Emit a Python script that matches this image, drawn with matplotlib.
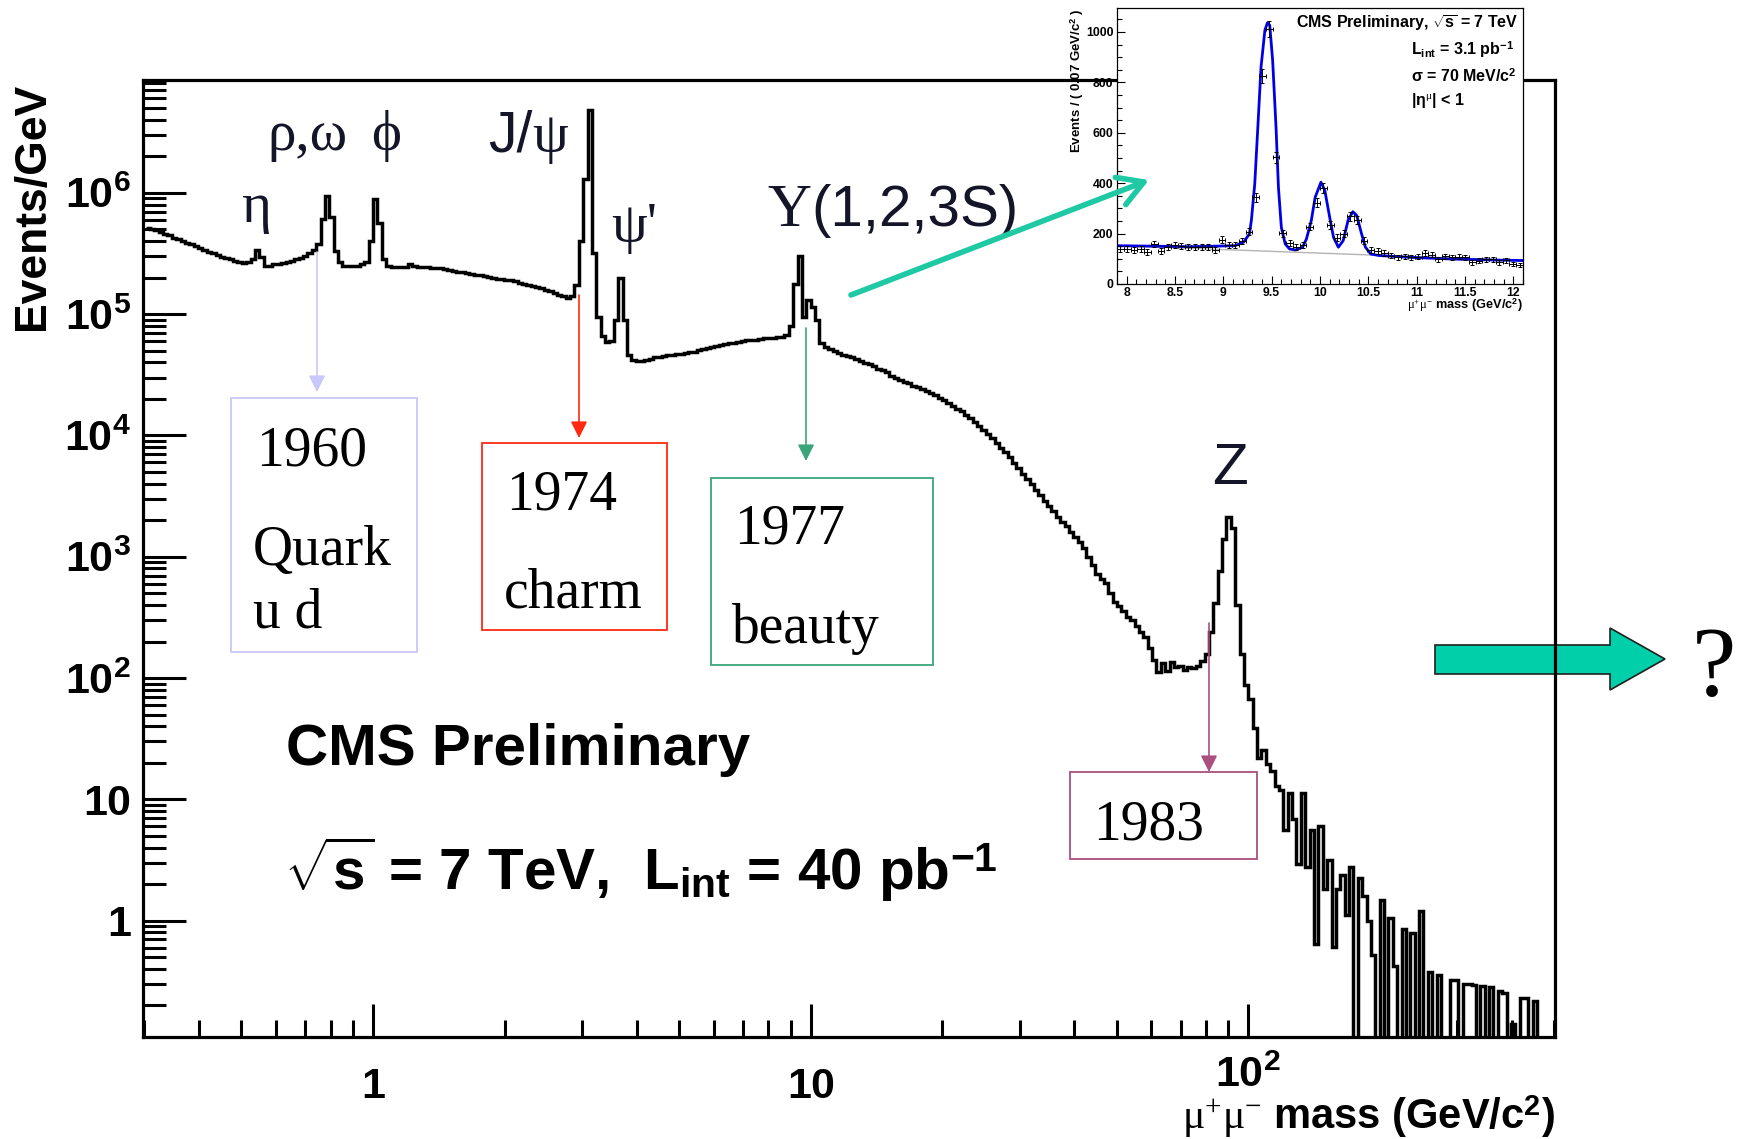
"""CMS dimuon mass spectrum (7 TeV, 40 pb-1) with discovery years and the Upsilon inset."""
import numpy as np
import matplotlib
matplotlib.use("Agg")
import matplotlib.pyplot as plt
import matplotlib.transforms as mtransforms
from matplotlib.patches import Rectangle, Polygon, FancyArrowPatch
from matplotlib.ticker import LogLocator, NullFormatter, MultipleLocator, FuncFormatter

plt.rcParams["font.family"] = ["Liberation Sans", "DejaVu Sans"]
plt.rcParams["mathtext.fontset"] = "custom"
plt.rcParams["mathtext.rm"] = "Liberation Serif"
plt.rcParams["mathtext.it"] = "Liberation Serif:italic"
plt.rcParams["mathtext.bf"] = "Liberation Sans:bold"
plt.rcParams["mathtext.default"] = "rm"

# --- data: main spectrum ---
# log-mass binning of the histogram
bin_log_lo = -0.52
bin_log_step = 0.01
# log10(events/GeV) per bin; None = empty bin
log_events = [
    5.71, 5.70, 5.69, 5.68, 5.66, 5.65, 5.63, 5.62, 5.60, 5.59,
    5.575, 5.56, 5.545, 5.53, 5.515, 5.50, 5.49, 5.47, 5.46, 5.45,
    5.44, 5.43, 5.42, 5.43, 5.45, 5.53, 5.47, 5.40, 5.40, 5.41,
    5.41, 5.42, 5.43, 5.44, 5.45, 5.46, 5.48, 5.50, 5.53, 5.58,
    5.78, 5.97, 5.80, 5.52, 5.43, 5.40, 5.40, 5.40, 5.40, 5.41,
    5.43, 5.60, 5.95, 5.75, 5.45, 5.40, 5.39, 5.39, 5.39, 5.39,
    5.41, 5.40, 5.39, 5.39, 5.385, 5.38, 5.38, 5.38, 5.37, 5.36,
    5.355, 5.35, 5.345, 5.34, 5.33, 5.325, 5.32, 5.31, 5.305, 5.30,
    5.29, 5.29, 5.285, 5.28, 5.27, 5.26, 5.25, 5.24, 5.235, 5.225,
    5.215, 5.20, 5.19, 5.175, 5.16, 5.145, 5.135, 5.15, 5.24, 5.60,
    6.11, 6.68, 5.50, 4.98, 4.82, 4.77, 4.78, 4.95, 5.30, 4.95,
    4.66, 4.62, 4.61, 4.615, 4.62, 4.63, 4.645, 4.65, 4.655, 4.66,
    4.665, 4.67, 4.675, 4.68, 4.685, 4.69, 4.70, 4.71, 4.72, 4.73,
    4.74, 4.745, 4.75, 4.76, 4.765, 4.77, 4.78, 4.785, 4.79, 4.79,
    4.795, 4.80, 4.80, 4.805, 4.81, 4.815, 4.83, 4.90, 5.25, 5.48,
    4.98, 5.12, 5.06, 4.95, 4.76, 4.73, 4.71, 4.695, 4.68, 4.665,
    4.655, 4.645, 4.63, 4.615, 4.60, 4.585, 4.57, 4.55, 4.535, 4.52,
    4.49, 4.47, 4.46, 4.44, 4.43, 4.41, 4.40, 4.38, 4.365, 4.35,
    4.335, 4.31, 4.29, 4.27, 4.245, 4.22, 4.20, 4.17, 4.14, 4.11,
    4.08, 4.045, 4.01, 3.98, 3.94, 3.90, 3.86, 3.82, 3.77, 3.73,
    3.68, 3.64, 3.60, 3.55, 3.51, 3.46, 3.42, 3.38, 3.33, 3.29,
    3.25, 3.20, 3.16, 3.12, 3.07, 3.00, 2.93, 2.86, 2.82, 2.78,
    2.70, 2.63, 2.59, 2.55, 2.50, 2.48, 2.43, 2.38, 2.34, 2.25,
    2.15, 2.05, 2.12, 2.06, 2.13, 2.09, 2.10, 2.07, 2.09, 2.08,
    2.10, 2.14, 2.20, 2.38, 2.62, 2.88, 3.15, 3.33, 3.24, 2.60,
    2.20, 1.94, 1.83, 1.59, 1.34, 1.41, 1.29, 1.23, 1.11, 1.08,
    0.75, 1.05, 0.84, 0.47, 1.05, 0.44, 0.75, -0.19, 0.78, 0.26,
    0.50, -0.22, 0.26, 0.38, 0.05, 0.44, None, 0.35, 0.20, 0.00,
    -0.28, None, 0.17, None, 0.02, -0.37, None, -0.07, None, -0.10,
    None, 0.08, None, -0.42, None, -0.45, None, None, -0.49, -0.49,
    None, -0.52, -0.52, -0.53, None, -0.54, None, -0.55, None, -0.58,
    -0.60, None, -0.85, None, -0.64, -0.64, None, -0.66, None, None,
    None, None,
]

x_tick_values = [1, 10, 100]
x_tick_labels = ["1", "10", r"$\mathbf{10^{2}}$"]
y_tick_values = [1, 10, 1e2, 1e3, 1e4, 1e5, 1e6]
y_tick_labels = ["1", "10", r"$\mathbf{10^{2}}$", r"$\mathbf{10^{3}}$",
                 r"$\mathbf{10^{4}}$", r"$\mathbf{10^{5}}$", r"$\mathbf{10^{6}}$"]

# --- data: Upsilon inset ---
ups_lo, ups_hi, ups_nbins = 7.9, 12.1, 60
ups_counts = [
    139, 139, 135, 139, 126, 159, 130, 148, 155, 152,
    148, 148, 148, 148, 135, 176, 156, 156, 170, 208,
    344, 825, 1011, 503, 201, 163, 146, 155, 228, 323,
    382, 234, 183, 199, 268, 252, 172, 135, 130, 123,
    113, 106, 110, 106, 109, 123, 117, 99, 110, 106,
    109, 106, 86, 93, 99, 99, 86, 95, 79, 76,
]
fit_mass = [7.9, 8.67, 9.12, 9.21, 9.27, 9.29, 9.325, 9.357, 9.39, 9.43,
            9.456, 9.48, 9.51, 9.545, 9.57, 9.60, 9.64, 9.685, 9.75, 9.82,
            9.86, 9.91, 9.95, 10.01, 10.05, 10.10, 10.14, 10.19, 10.24, 10.29,
            10.34, 10.38, 10.43, 10.47, 10.525, 10.61, 10.92, 11.37, 11.82, 12.1]
fit_events = [152, 148, 152, 166, 199, 252, 397, 623, 861, 1007,
              1036, 1027, 888, 623, 384, 225, 159, 139, 135, 146,
              179, 252, 344, 404, 371, 265, 185, 146, 172, 252,
              287, 272, 199, 146, 119, 113, 106, 99, 95, 93]
bkg_mass = [7.9, 12.1]
bkg_events = [152, 93]

# --- figure helpers (pixel layout of the 1744x1139 picture) ---
W, H = 1744, 1139


def fig_xy(x, y):
    return x / W, 1 - y / H


fig = plt.figure(figsize=(W / 100, H / 100), dpi=100)
fig.patch.set_facecolor("white")

# --- main spectrum ---
ax = fig.add_axes([143 / W, 1 - 1037 / H, (1555 - 143) / W, (1037 - 80) / H])
ax.set_facecolor("none")

vals = np.array(log_events, dtype=float)
counts = np.where(np.isnan(vals), 0.0, 10.0 ** np.nan_to_num(vals))
edges = 10.0 ** (bin_log_lo + bin_log_step * np.arange(len(counts) + 1))
ax.set_xscale("log")
ax.set_yscale("log")
ax.stairs(counts, edges, baseline=None, color="black", lw=2.5)

ax.set_xlim(0.298, 502)
ax.set_ylim(0.11, 8.5e6)

for s in ax.spines.values():
    s.set_linewidth(2.3)

ax.set_yticks(y_tick_values, labels=y_tick_labels)
for lbl in ax.get_yticklabels():
    lbl.set_fontweight("bold")
    lbl.set_fontsize(31)
ax.yaxis.set_minor_locator(LogLocator(base=10, subs=np.arange(2, 10), numticks=30))
ax.yaxis.set_minor_formatter(NullFormatter())
ax.set_xticks(x_tick_values)
ax.tick_params(axis="x", which="major", labelbottom=False)
ax.xaxis.set_minor_locator(LogLocator(base=10, subs=np.arange(2, 10), numticks=30))
ax.xaxis.set_minor_formatter(NullFormatter())

ax.tick_params(axis="y", which="major", direction="in", length=31, width=2.2, pad=8.5)
ax.tick_params(axis="y", which="minor", direction="in", length=16.5, width=2.2)
ax.tick_params(axis="x", which="major", direction="in", length=24, width=2.2)
ax.tick_params(axis="x", which="minor", direction="in", length=12.5, width=2.2)

xt = mtransforms.blended_transform_factory(ax.transData, fig.transFigure)
for v, lab in zip(x_tick_values, x_tick_labels):
    base = 1087 if lab.startswith("$") else 1098
    ax.text(v, 1 - base / H, lab, transform=xt, ha="center", va="baseline",
            fontsize=31, fontweight="bold", clip_on=False)

fig.text(*fig_xy(1555, 1129), r"$\mu^{+}\mu^{-}$ mass (GeV/c$^{\mathbf{2}}$)",
         ha="right", va="baseline", fontsize=30, fontweight="bold")
fig.text(*fig_xy(33, 83), "Events/GeV", rotation=90, ha="center", va="top",
         fontsize=32, fontweight="bold")

fig.text(*fig_xy(286, 765), "CMS Preliminary", fontsize=42, fontweight="bold",
         ha="left", va="baseline")
fig.text(*fig_xy(284, 890),
         r"$\sqrt{\mathbf{s}}$ = 7 TeV,  L$_{\mathbf{int}}$ = 40 pb$^{\mathbf{-1}}$",
         fontsize=42, fontweight="bold", ha="left", va="baseline")

# --- resonance labels ---
label_col = "#15152a"
serif = ["Liberation Serif", "DejaVu Serif"]
sans = ["Liberation Sans", "DejaVu Sans"]


def label(x, y, s, fam, ha="center", size=41):
    fig.text(*fig_xy(x, y), s, ha=ha, va="baseline", fontsize=size, family=fam, color=label_col)


label(256, 222, "η", serif)
label(307, 150, "ρ,ω", serif)
label(386, 150, "ϕ", serif)
label(532, 152, "J/", sans, ha="right")
label(532, 152, "ψ", serif, ha="left")
label(634, 242, "ψ'", serif)
label(811, 226, "Υ", serif, ha="right", size=44)
label(811, 226, "(1,2,3S)", sans, ha="left", size=42)
label(1230, 484, "Z", sans, size=42)

# --- discovery boxes and arrows ---
year_font = dict(family=serif, fontsize=40, color="black", ha="left", va="baseline")


def box(x0, y0, x1, y1, color):
    (fx0, fy1), (fx1, fy0) = fig_xy(x0, y0), fig_xy(x1, y1)
    fig.add_artist(Rectangle((fx0, fy0), fx1 - fx0, fy1 - fy0, transform=fig.transFigure,
                             facecolor="none", edgecolor=color, lw=1.3))


def down_arrow(x, y0, y1, color):
    fig.add_artist(FancyArrowPatch(fig_xy(x, y0), fig_xy(x, y1), transform=fig.transFigure,
                                   arrowstyle="-|>", mutation_scale=25, color=color, lw=1.2,
                                   shrinkA=0, shrinkB=0))


lav, red, green, mauve = "#c8c8fa", "#ff2a10", "#3aa57a", "#aa4f7e"
box(231, 398, 417, 652, lav)
down_arrow(317, 252, 392, lav)
fig.text(*fig_xy(256, 465), "1960", **year_font)
fig.text(*fig_xy(253, 565), "Quark", **year_font)
fig.text(*fig_xy(253, 628), "u d", **year_font)

box(482, 443, 667, 630, red)
down_arrow(579, 295, 438, red)
fig.text(*fig_xy(506, 509), "1974", **year_font)
fig.text(*fig_xy(504, 607), "charm", **year_font)

box(711, 478, 933, 665, green)
down_arrow(806, 328, 461, green)
fig.text(*fig_xy(734, 543), "1977", **year_font)
fig.text(*fig_xy(732, 643), "beauty", **year_font)

box(1070, 772, 1257, 859, mauve)
down_arrow(1209, 623, 772, mauve)
fig.text(*fig_xy(1093, 840), "1983", **year_font)

# big arrow to the unknown
arrow_pts = [(1435, 645), (1610, 645), (1610, 628), (1665, 659),
             (1610, 690), (1610, 674), (1435, 674)]
fig.add_artist(Polygon([fig_xy(*p) for p in arrow_pts], closed=True, transform=fig.transFigure,
                       facecolor="#00cfa9", edgecolor="#202020", lw=1.2, zorder=-1))
fig.text(*fig_xy(1714, 695), "?", family=serif, fontsize=72, ha="center", va="baseline")

# --- inset: Upsilon region ---
ax2 = fig.add_axes([1117 / W, 1 - 284 / H, (1523 - 1117) / W, (284 - 8) / H])
ax2.set_facecolor("white")
ups_edges = np.linspace(ups_lo, ups_hi, ups_nbins + 1)
ups_centers = 0.5 * (ups_edges[1:] + ups_edges[:-1])
ups_c = np.array(ups_counts, dtype=float)
ax2.plot(bkg_mass, bkg_events, color="#b4b4b4", lw=1.0, zorder=1)
ax2.plot(fit_mass, fit_events, color="#0000e6", lw=2.0, zorder=2)
ax2.errorbar(ups_centers, ups_c, xerr=0.5 * (ups_edges[1] - ups_edges[0]), yerr=np.sqrt(ups_c),
             fmt="none", ecolor="black", elinewidth=0.7, capsize=1.2, capthick=0.7, zorder=3)
ax2.set_xlim(ups_lo, ups_hi)
ax2.set_ylim(0, 1095)
for s in ax2.spines.values():
    s.set_linewidth(0.9)
ax2.xaxis.set_major_locator(MultipleLocator(0.5))
ax2.xaxis.set_minor_locator(MultipleLocator(0.1))
ax2.yaxis.set_major_locator(MultipleLocator(200))
ax2.yaxis.set_minor_locator(MultipleLocator(50))
ax2.xaxis.set_major_formatter(FuncFormatter(lambda v, p: f"{v:g}"))
ax2.tick_params(which="major", direction="in", length=6, width=0.8, labelsize=8.8, pad=2.5)
ax2.tick_params(which="minor", direction="in", length=3.5, width=0.8)
for lbl in ax2.get_xticklabels() + ax2.get_yticklabels():
    lbl.set_fontweight("bold")

fig.text(*fig_xy(1077, 8), r"Events / ( 0.07 GeV/c$^{\mathbf{2}}$ )", rotation=90,
         ha="center", va="top", fontsize=9.5, fontweight="bold")
fig.text(*fig_xy(1523, 309), r"$\mu^{+}\mu^{-}$ mass (GeV/c$^{\mathbf{2}}$)",
         ha="right", va="baseline", fontsize=9.2, fontweight="bold")

inset_font = dict(fontsize=11.5, fontweight="bold", va="baseline")
fig.text(*fig_xy(1518, 28), r"CMS Preliminary, $\sqrt{\mathbf{s}}$ = 7 TeV", ha="right", **inset_font)
fig.text(*fig_xy(1411, 55), r"L$_{\mathbf{int}}$ = 3.1 pb$^{\mathbf{-1}}$", ha="left", **inset_font)
fig.text(*fig_xy(1411, 82), r"σ = 70 MeV/c$^{\mathbf{2}}$", ha="left", **inset_font)
fig.text(*fig_xy(1411, 105), r"|η$^{\mu}$| < 1", ha="left", **inset_font)

# teal pointer from the Upsilon peak to the inset
fig.add_artist(FancyArrowPatch(fig_xy(851, 295), fig_xy(1149, 180), transform=fig.transFigure,
                               arrowstyle="->,head_length=0.6,head_width=0.35", mutation_scale=30,
                               color="#1fc9a3", lw=4, shrinkA=0, shrinkB=0, zorder=5))

fig.savefig("out.png", dpi=100)
